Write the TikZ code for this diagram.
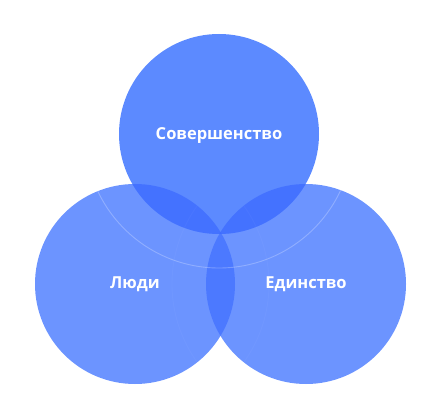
\documentclass[tikz,border=0pt]{standalone}
\usepackage{fontspec}
\setmainfont{Open Sans}
\usepackage{tikz}
\definecolor{topblue}{RGB}{92,138,255}
\definecolor{sideblue}{RGB}{108,148,255}
\definecolor{mixblue}{RGB}{68,114,255}
\definecolor{sidemix}{RGB}{76,121,255}
\definecolor{coreblue}{RGB}{62,108,255}

\begin{document}
\begin{tikzpicture}[x=1pt,y=-1pt,
  label/.style={text=white,anchor=base,inner sep=0pt,font=\bfseries\fontsize{16.5}{18}\selectfont},
  ring/.style={white,line width=0.9pt}]
\useasboundingbox (0,0) rectangle (441,419);
\coordinate (top) at (219,134);
\coordinate (left) at (135,284);
\coordinate (right) at (306,284);

% the three circles
\fill [sideblue] (left) circle (100pt);
\fill [sideblue] (right) circle (100pt);
\fill [topblue] (top) circle (100pt);

% overlaps
\begin{scope}
\clip (left) circle (100pt);
\fill [sidemix] (right) circle (100pt);
\end{scope}
\begin{scope}
\clip (top) circle (100pt);
\fill [mixblue] (left) circle (100pt);
\fill [mixblue] (right) circle (100pt);
\end{scope}
\begin{scope}
\clip (top) circle (100pt);
\clip (left) circle (100pt);
\fill [coreblue] (right) circle (100pt);
\end{scope}

% faint rings, seen only on the lower circles
\begin{scope}
\clip (left) circle (100pt) (right) circle (100pt);
\draw [ring, opacity=0.25] (top) circle (134pt);
\draw [ring, opacity=0.03] (left) circle (134pt);
\draw [ring, opacity=0.03] (right) circle (134pt);
\end{scope}

\node [label] (perfection) at (219,140) {Совершенство};
\node [label] (people) at (135,288) {Люди};
\node [label] (unity) at (306,288) {Единство};
\end{tikzpicture}
\end{document}
